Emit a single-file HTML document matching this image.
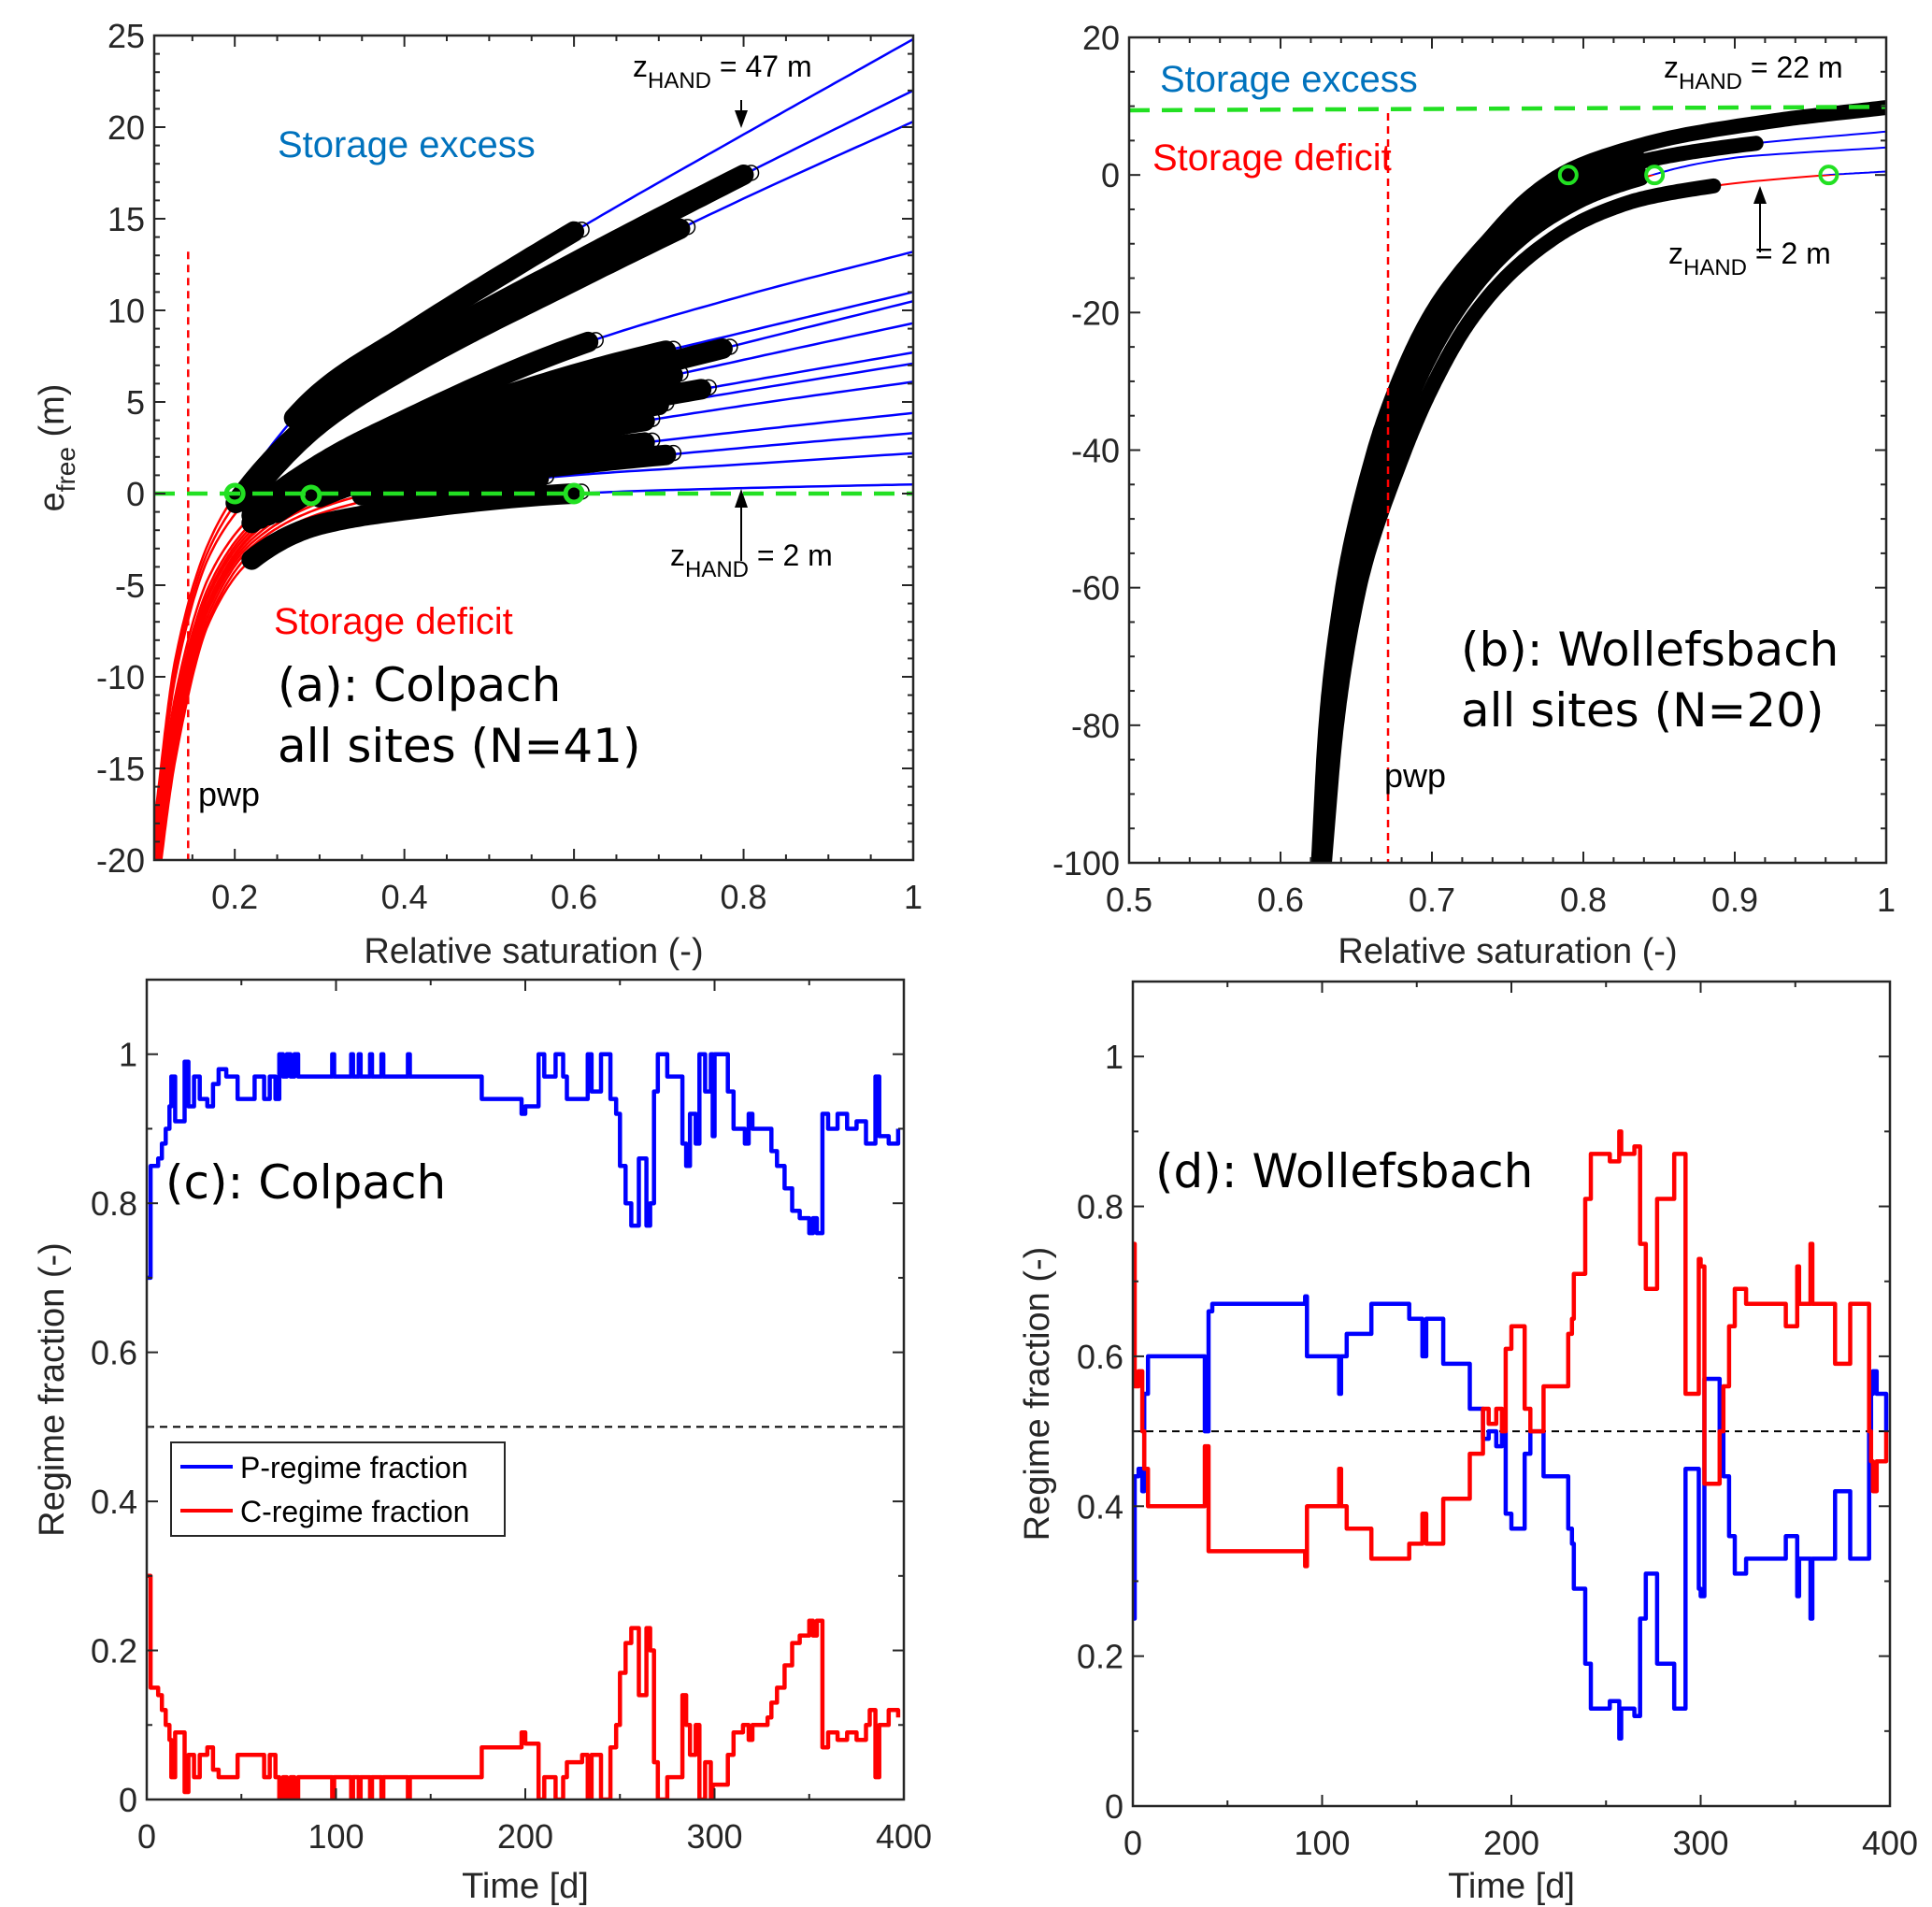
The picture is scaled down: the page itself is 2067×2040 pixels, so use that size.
<!DOCTYPE html>
<html><head><meta charset="utf-8"><title>Regime chart</title>
<style>
html,body{margin:0;padding:0;background:#fff;}
svg{display:block;}
text{font-family:"Liberation Sans",Arial,sans-serif;}
.big{font-family:"DejaVu Sans","Liberation Sans",sans-serif;}
</style></head>
<body>
<svg id="fig" width="2067" height="2040" viewBox="0 0 2067 2040" xmlns="http://www.w3.org/2000/svg" fill="#262626">
<defs>
<clipPath id="clipA"><rect x="165" y="38" width="812" height="882"/></clipPath>
<clipPath id="clipB"><rect x="1208" y="40" width="810" height="883"/></clipPath>
<clipPath id="clipC"><rect x="157" y="1048" width="810" height="877"/></clipPath>
<clipPath id="clipD"><rect x="1212" y="1050" width="810" height="882"/></clipPath>
<clipPath id="aboveA"><rect x="165" y="0" width="812" height="528"/></clipPath>
<clipPath id="belowA"><rect x="165" y="528" width="812" height="500"/></clipPath>
<clipPath id="aboveB"><rect x="1208" y="0" width="810" height="187"/></clipPath>
<clipPath id="belowB"><rect x="1208" y="187" width="810" height="760"/></clipPath>
</defs>
<g id="gA"></g>
<g id="gB"></g>
<g id="gC"></g>
<g id="gD"></g>
</svg>
<script>
// ---------- Panel (a) data ----------
const aSat = [0.105,0.13,0.17,0.22,0.3,0.4,0.6,0.8,1.0];
const aCurves = [
 [-18,-9,-2.6,1.2,5.5,8.6,14.3,19.6,24.8],
 [-18.5,-9.5,-3,0.6,4.3,7.5,12.6,17.4,22],
 [-19,-10,-3.4,0,3.8,6.8,11.6,16.1,20.3],
 [-19,-11,-4.5,-1.2,1.6,4.0,8.0,10.8,13.2],
 [-19.5,-11.5,-5,-1.6,1.0,3.3,6.5,8.8,11],
 [-20,-12,-5.3,-1.8,0.8,2.9,5.8,8.2,10.5],
 [-20,-12,-5.5,-2,0.6,2.6,5.2,7.3,9.3],
 [-21,-12.5,-5.8,-2.2,0.3,2.1,4.4,6.1,7.7],
 [-21,-12.5,-5.8,-2.3,0.1,1.8,4.0,5.6,7.1],
 [-21,-13,-6,-2.5,-0.2,1.3,3.3,4.8,6.1],
 [-22,-13,-6.2,-2.7,-0.5,0.8,2.3,3.4,4.4],
 [-22,-13.5,-6.5,-2.9,-0.8,0.4,1.6,2.5,3.3],
 [-22,-14,-6.8,-3.2,-1.1,0,1.0,1.6,2.2],
 [-23,-14.5,-7,-3.6,-1.7,-0.9,0,0.3,0.5]
];
const aScatterStart = [0.27,0.2,0.21,0.22,0.22,0.23,0.24,0.25,0.3,0.3,0.35,0.35,0.36,0.22];
const aScatterEnd = [0.6,0.8,0.73,0.62,0.71,0.78,0.72,0.75,0.7,0.69,0.69,0.71,0.56,0.6];
const aGreenX = [0.2,0.29,0.6];
const aGreenY = [0,-0.1,0];
const aXTicks = [0.2,0.4,0.6,0.8,1];
const aXTickLabels = ["0.2","0.4","0.6","0.8","1"];
const aYTicks = [-20,-15,-10,-5,0,5,10,15,20,25];
const aYTickLabels = ["-20","-15","-10","-5","0","5","10","15","20","25"];
// ---------- Panel (b) data ----------
const bSat1 = [0.625,0.630,0.641,0.662,0.678,0.700,0.735,0.785,0.85,0.93,1.0];
const bVal1 = [-100,-80,-60,-40,-30,-20,-10,0,5,8,9.8];
const bSat2 = [0.626,0.632,0.644,0.667,0.684,0.707,0.743,0.79,0.85,0.914,1.0];
const bVal2 = [-100,-80,-60,-40,-30,-20,-10,-1,2.5,4.6,6.3];
const bSat3 = [0.627,0.634,0.648,0.673,0.691,0.716,0.755,0.8,0.838,0.9,1.0];
const bVal3 = [-100,-80,-60,-40,-30,-20,-10,-3.5,-0.5,2.5,4];
const bSat4 = [0.629,0.637,0.652,0.682,0.702,0.729,0.775,0.83,0.886,0.962,1.0];
const bVal4 = [-100,-80,-60,-40,-30,-20,-10,-4,-1.6,0,0.5];
const bScatterStart = [0.625,0.626,0.627,0.629];
const bScatterEnd = [1.0,0.914,0.838,0.886];
const bGreenX = [0.79,0.847,0.962];
const bGreenY = [0,0,0];
const bXTicks = [0.5,0.6,0.7,0.8,0.9,1];
const bXTickLabels = ["0.5","0.6","0.7","0.8","0.9","1"];
const bYTicks = [-100,-80,-60,-40,-20,0,20];
const bYTickLabels = ["-100","-80","-60","-40","-20","0","20"];
// ---------- Panel (c) data ----------
const cDays = [0,2,6,8,10,12,13,15,20,22,25,28,32,35,38,42,48,57,62,65,68,70,72,74,76,78,80,85,98,99,108,109,112,113,118,119,124,125,138,139,175,177,197,198,200,205,207,210,216,220,222,230,233,235,240,245,248,250,253,256,260,264,266,268,270,275,280,283,285,287,290,292,295,298,299,300,305,307,310,315,316,318,320,328,330,333,337,341,345,350,352,354,357,360,365,370,375,380,382,385,387,392,395,397];
const cP = [0.70,0.85,0.86,0.88,0.90,0.93,0.97,0.91,0.99,0.93,0.97,0.94,0.93,0.96,0.98,0.97,0.94,0.97,0.94,0.97,0.94,1.0,0.97,1.0,0.97,1.0,0.97,0.97,1.0,0.97,1.0,0.97,1.0,0.97,1.0,0.97,1.0,0.97,1.0,0.97,0.97,0.94,0.94,0.92,0.93,0.93,1.0,0.97,1.0,0.97,0.94,0.94,1.0,0.95,1.0,0.94,0.92,0.85,0.80,0.77,0.86,0.77,0.80,0.95,1.0,0.97,0.97,0.88,0.85,0.92,0.88,1.0,0.95,1.0,0.89,1.0,1.0,0.95,0.90,0.90,0.88,0.92,0.90,0.90,0.87,0.85,0.82,0.79,0.78,0.76,0.78,0.76,0.92,0.90,0.92,0.90,0.91,0.88,0.88,0.97,0.89,0.88,0.88,0.90];
const cC = [0.30,0.15,0.14,0.12,0.10,0.08,0.03,0.09,0.01,0.06,0.03,0.06,0.07,0.04,0.03,0.03,0.06,0.06,0.03,0.06,0.03,0.0,0.03,0.0,0.03,0.0,0.03,0.03,0.0,0.03,0.0,0.03,0.0,0.03,0.0,0.03,0.0,0.03,0.0,0.03,0.03,0.07,0.07,0.09,0.075,0.075,0.0,0.03,0.0,0.03,0.05,0.06,0.0,0.06,0.0,0.07,0.10,0.17,0.21,0.23,0.14,0.23,0.20,0.05,0.0,0.03,0.03,0.14,0.10,0.06,0.10,0.0,0.05,0.0,0.02,0.02,0.02,0.06,0.09,0.10,0.10,0.08,0.10,0.11,0.13,0.15,0.18,0.21,0.22,0.24,0.22,0.24,0.07,0.09,0.08,0.09,0.08,0.10,0.12,0.03,0.10,0.12,0.12,0.11];
// ---------- Panel (d) data ----------
const dDays = [0,1,3,5,6,8,38,40,42,90,91,92,108,109,110,113,125,126,145,146,152,153,155,163,164,177,178,184,185,188,192,195,197,200,205,207,210,215,217,228,230,232,233,238,239,242,250,252,257,258,264,265,268,271,275,277,285,286,290,292,297,299,300,302,308,310,312,315,318,322,324,343,345,350,351,352,358,359,370,371,378,379,387,389,390,391,393,397,398];
const dP = [0.25,0.44,0.45,0.42,0.55,0.60,0.50,0.66,0.67,0.67,0.68,0.60,0.60,0.55,0.60,0.63,0.63,0.67,0.67,0.65,0.65,0.60,0.65,0.65,0.59,0.59,0.53,0.53,0.49,0.50,0.48,0.50,0.39,0.37,0.37,0.47,0.50,0.50,0.44,0.44,0.37,0.35,0.29,0.29,0.19,0.13,0.13,0.14,0.09,0.13,0.13,0.12,0.25,0.31,0.31,0.19,0.19,0.13,0.13,0.45,0.45,0.29,0.28,0.57,0.57,0.50,0.44,0.36,0.31,0.31,0.33,0.33,0.36,0.36,0.28,0.33,0.25,0.33,0.33,0.42,0.42,0.33,0.33,0.50,0.55,0.58,0.55,0.55,0.50];
const dC = [0.75,0.56,0.58,0.50,0.45,0.40,0.48,0.34,0.34,0.34,0.32,0.40,0.40,0.45,0.40,0.37,0.37,0.33,0.33,0.35,0.35,0.39,0.35,0.35,0.41,0.41,0.47,0.47,0.53,0.51,0.53,0.50,0.61,0.64,0.64,0.53,0.50,0.50,0.56,0.56,0.63,0.65,0.71,0.71,0.81,0.87,0.87,0.86,0.90,0.87,0.87,0.88,0.75,0.69,0.69,0.81,0.81,0.87,0.87,0.55,0.55,0.73,0.72,0.43,0.43,0.50,0.56,0.64,0.69,0.69,0.67,0.67,0.64,0.64,0.72,0.67,0.75,0.67,0.67,0.59,0.59,0.67,0.67,0.50,0.46,0.42,0.46,0.46,0.50];
const tXTicks = [0,100,200,300,400];
const tXTickLabels = ["0","100","200","300","400"];
const tYTicks = [0,0.2,0.4,0.6,0.8,1];
const tYTickLabels = ["0","0.2","0.4","0.6","0.8","1"];

const NS = "http://www.w3.org/2000/svg";
function mk(parent, tag, attrs, txt){
  const e = document.createElementNS(NS, tag);
  for (const k in attrs) e.setAttribute(k, attrs[k]);
  if (txt !== undefined) e.textContent = txt;
  parent.appendChild(e);
  return e;
}
function lin(d0,d1,r0,r1){ return v => r0 + (v-d0)/(d1-d0)*(r1-r0); }
function mono(xs, ys){
  const n=xs.length, dk=[], m=new Array(n);
  for (let i=0;i<n-1;i++) dk.push((ys[i+1]-ys[i])/(xs[i+1]-xs[i]));
  m[0]=dk[0]; m[n-1]=dk[n-2];
  for (let i=1;i<n-1;i++){
    if (dk[i-1]*dk[i]<=0) m[i]=0;
    else { const w1=2*(xs[i+1]-xs[i])+(xs[i]-xs[i-1]), w2=(xs[i+1]-xs[i])+2*(xs[i]-xs[i-1]);
      m[i]=(w1+w2)/(w1/dk[i-1]+w2/dk[i]); }
  }
  const out=[];
  for (let i=0;i<n-1;i++){
    const h=xs[i+1]-xs[i];
    for (let k=0;k<24;k++){
      const t=k/24, t2=t*t, t3=t2*t;
      out.push([xs[i]+h*t,(2*t3-3*t2+1)*ys[i]+(t3-2*t2+t)*h*m[i]+(-2*t3+3*t2)*ys[i+1]+(t3-t2)*h*m[i+1]]);
    }
  }
  out.push([xs[n-1],ys[n-1]]);
  return out;
}
function densePts(xs, ys, sx, sy, x0, x1){
  return mono(xs,ys).filter(p=>p[0]>=x0-1e-9&&p[0]<=x1+1e-9).map(p=>[sx(p[0]),sy(p[1])]);
}
function densePtsInv(xs, ys, sx, sy, x0, x1){
  return mono(ys,xs).map(p=>[p[1],p[0]]).filter(p=>p[0]>=x0-1e-9&&p[0]<=x1+1e-9).map(p=>[sx(p[0]),sy(p[1])]);
}
function polyD(pts){ return "M"+pts.map(p=>p[0].toFixed(1)+","+p[1].toFixed(1)).join(" L"); }
function stepD(xs, ys, sx, sy){
  let d="M"+sx(xs[0]).toFixed(1)+","+sy(ys[0]).toFixed(1);
  for (let i=1;i<xs.length;i++){
    d+=" L"+sx(xs[i]).toFixed(1)+","+sy(ys[i-1]).toFixed(1)+" L"+sx(xs[i]).toFixed(1)+","+sy(ys[i]).toFixed(1);
  }
  return d;
}
function axes(g, box, sx, sy, xt, xl, yt, yl, xMinor, yMinor){
  const [L,T,R,B]=box;
  for (let i=0;i<xt.length;i++){
    const x=sx(xt[i]);
    const t1=mk(g,"line",{x1:x,y1:B,x2:x,y2:B-12,stroke:"#262626","stroke-width":2});
    
    
    mk(g,"line",{x1:x,y1:T,x2:x,y2:T+12,stroke:"#262626","stroke-width":2});
    const tl=mk(g,"text",{x:x,y:B+52,"font-size":36,"text-anchor":"middle",fill:"#262626"},xl[i]);
    
    
  }
  for (let i=0;i<yt.length;i++){
    const y=sy(yt[i]);
    const t1=mk(g,"line",{x1:L,y1:y,x2:L+12,y2:y,stroke:"#262626","stroke-width":2});
    
    
    mk(g,"line",{x1:R,y1:y,x2:R-12,y2:y,stroke:"#262626","stroke-width":2});
    const tl=mk(g,"text",{x:L-10,y:y+13,"font-size":36,"text-anchor":"end",fill:"#262626"},yl[i]);
    
    
  }
  (xMinor||[]).forEach(v=>{const x=sx(v);
    mk(g,"line",{x1:x,y1:B,x2:x,y2:B-6,stroke:"#262626","stroke-width":2});
    mk(g,"line",{x1:x,y1:T,x2:x,y2:T+6,stroke:"#262626","stroke-width":2});});
  (yMinor||[]).forEach(v=>{const y=sy(v);
    mk(g,"line",{x1:L,y1:y,x2:L+6,y2:y,stroke:"#262626","stroke-width":2});
    mk(g,"line",{x1:R,y1:y,x2:R-6,y2:y,stroke:"#262626","stroke-width":2});});
  const fr=mk(g,"rect",{x:L,y:T,width:R-L,height:B-T,fill:"none",stroke:"#262626","stroke-width":2.5});
  
  
}
function range(a,b,s){const o=[];for(let v=a;v<=b+1e-9;v+=s)o.push(+v.toFixed(4));return o;}

// ================= Panel A =================
(function(){
  const g=document.getElementById("gA");
  const box=[165,38,977,920];
  const sx=lin(0.105,1,165,977), sy=lin(-20,25,920,38);
  const plot=mk(g,"g",{"clip-path":"url(#clipA)"});
  aCurves.forEach((ys,i)=>{
    const d=polyD(densePts(aSat,ys,sx,sy,0,1));
    const r=mk(plot,"path",{d:d,fill:"none",stroke:"#ff0000","stroke-width":2.5,"clip-path":"url(#belowA)"});
    
    
    const b=mk(plot,"path",{d:d,fill:"none",stroke:"#0000ff","stroke-width":2.5,"clip-path":"url(#aboveA)"});
    
    
  });
  aCurves.forEach((ys,i)=>{
    const pts=densePts(aSat,ys,sx,sy,aScatterStart[i],aScatterEnd[i]);
    const s=mk(plot,"path",{d:polyD(pts),fill:"none",stroke:"#000","stroke-width":22,"stroke-linecap":"round"});
    
    
    const e=pts[pts.length-1];
    mk(plot,"circle",{cx:e[0]+8,cy:e[1]-2,r:8,fill:"none",stroke:"#000","stroke-width":1.5});
  });
  const pwp=mk(plot,"line",{x1:sx(0.145),y1:sy(13.2),x2:sx(0.145),y2:sy(-20),stroke:"#ff0000","stroke-width":2.5,"stroke-dasharray":"8 6"});
  
  
  const gl=mk(plot,"line",{x1:165,y1:sy(0),x2:977,y2:sy(0),stroke:"#22e022","stroke-width":4.5,"stroke-dasharray":"22 13"});
  
  
  aGreenX.forEach((x,i)=>{
    const c=mk(plot,"circle",{cx:sx(x),cy:sy(aGreenY[i]),r:9,fill:"none",stroke:"#22e022","stroke-width":5});
    
    
  });
  axes(g,box,sx,sy,aXTicks,aXTickLabels,aYTicks,aYTickLabels,range(0.15,0.95,0.05).filter(v=>Math.round(v*100)%20!==0),range(-19,24,1).filter(v=>v%5!==0));
  const t=(x,y,s,txt,fill,name,cls)=>{const e=mk(g,"text",{x:x,y:y,"font-size":s,fill:fill||"#000"},txt); if(cls)e.setAttribute("class",cls);   return e;};
  t(297,168,40,"Storage excess","#0072bd","storage-excess-label");
  t(293,678,40,"Storage deficit","#ff0000","storage-deficit-label");
  t(297,750,50,"(a): Colpach","#000","panel-a-title","big");
  t(297,815,50,"all sites (N=41)","#000","panel-a-subtitle","big");
  t(212,862,36,"pwp","#000","pwp-label");
  const z1=mk(g,"text",{x:677,y:82,"font-size":32,fill:"#000"});
   
  z1.innerHTML='z<tspan font-size="24" dy="12">HAND</tspan><tspan dy="-12"> = 47 m</tspan>';
  mk(g,"line",{x1:793,y1:107,x2:793,y2:125,stroke:"#000","stroke-width":2});
  mk(g,"path",{d:"M786,118 L800,118 L793,137 Z",fill:"#000"});
  const z2=mk(g,"text",{x:717,y:605,"font-size":32,fill:"#000"});
   
  z2.innerHTML='z<tspan font-size="24" dy="12">HAND</tspan><tspan dy="-12"> = 2 m</tspan>';
  mk(g,"line",{x1:793,y1:600,x2:793,y2:535,stroke:"#000","stroke-width":2});
  mk(g,"path",{d:"M786,543 L800,543 L793,523 Z",fill:"#000"});
  const xl=mk(g,"text",{x:571,y:1030,"font-size":38,"text-anchor":"middle",fill:"#262626"},"Relative saturation (-)");
   
  const yl=mk(g,"text",{transform:"translate(68,479) rotate(-90)","font-size":38,"text-anchor":"middle",fill:"#262626"});
   
  yl.innerHTML='e<tspan font-size="28" dy="12">free</tspan><tspan dy="-12"> (m)</tspan>';
})();

// ================= Panel B =================
(function(){
  const g=document.getElementById("gB");
  const box=[1208,40,2018,923];
  const sx=lin(0.5,1,1208,2018), sy=lin(-100,20,923,40);
  const plot=mk(g,"g",{"clip-path":"url(#clipB)"});
  const S=[bSat1,bSat2,bSat3,bSat4], V=[bVal1,bVal2,bVal3,bVal4];
  S.forEach((xs,i)=>{
    const d=polyD(densePtsInv(xs,V[i],sx,sy,0,1));
    const r=mk(plot,"path",{d:d,fill:"none",stroke:"#ff0000","stroke-width":2,"clip-path":"url(#belowB)"});
     
    const b=mk(plot,"path",{d:d,fill:"none",stroke:"#0000ff","stroke-width":2,"clip-path":"url(#aboveB)"});
     
  });
  const up=densePtsInv(bSat1,bVal1,sx,sy,bScatterStart[0],bScatterEnd[2]);
  const lo=densePtsInv(bSat3,bVal3,sx,sy,bScatterStart[2],bScatterEnd[2]).reverse();
  const band=mk(plot,"path",{d:polyD(up.concat(lo))+" Z",fill:"#000",stroke:"#000","stroke-width":12,"stroke-linejoin":"round"});
   
  S.forEach((xs,i)=>{
    const pts=densePtsInv(xs,V[i],sx,sy,bScatterStart[i],bScatterEnd[i]);
    const s=mk(plot,"path",{d:polyD(pts),fill:"none",stroke:"#000","stroke-width":16,"stroke-linecap":"round"});
     
  });
  const pwp=mk(plot,"line",{x1:sx(0.671),y1:sy(9),x2:sx(0.671),y2:sy(-100),stroke:"#ff0000","stroke-width":2.5,"stroke-dasharray":"8 6"});
   
  const gl=mk(plot,"line",{x1:1208,y1:sy(9.4),x2:2018,y2:sy(9.9),stroke:"#22e022","stroke-width":4.5,"stroke-dasharray":"22 13"});
   
  bGreenX.forEach((x,i)=>{
    const c=mk(plot,"circle",{cx:sx(x),cy:sy(bGreenY[i]),r:9,fill:"none",stroke:"#22e022","stroke-width":4});
     
  });
  axes(g,box,sx,sy,bXTicks,bXTickLabels,bYTicks,bYTickLabels,range(0.52,0.98,0.02).filter(v=>Math.round(v*100)%10!==0),range(-95,15,5).filter(v=>v%20!==0));
  const t=(x,y,s,txt,fill,name,cls)=>{const e=mk(g,"text",{x:x,y:y,"font-size":s,fill:fill||"#000"},txt); if(cls)e.setAttribute("class",cls);   return e;};
  t(1241,98,40,"Storage excess","#0072bd","storage-excess-label");
  t(1233,182,40,"Storage deficit","#ff0000","storage-deficit-label");
  t(1563,712,50,"(b): Wollefsbach","#000","panel-b-title","big");
  t(1563,777,50,"all sites (N=20)","#000","panel-b-subtitle","big");
  t(1481,842,36,"pwp","#000","pwp-label");
  const z1=mk(g,"text",{x:1780,y:83,"font-size":32,fill:"#000"});
   
  z1.innerHTML='z<tspan font-size="24" dy="12">HAND</tspan><tspan dy="-12"> = 22 m</tspan>';
  const z2=mk(g,"text",{x:1785,y:282,"font-size":32,fill:"#000"});
   
  z2.innerHTML='z<tspan font-size="24" dy="12">HAND</tspan><tspan dy="-12"> = 2 m</tspan>';
  mk(g,"line",{x1:1883,y1:270,x2:1883,y2:210,stroke:"#000","stroke-width":2});
  mk(g,"path",{d:"M1876,218 L1890,218 L1883,199 Z",fill:"#000"});
  const xl=mk(g,"text",{x:1613,y:1030,"font-size":38,"text-anchor":"middle",fill:"#262626"},"Relative saturation (-)");
   
})();

// ================= Panels C & D =================
function timePanel(id, box, days, P, C, title, titleX, titleY, ylX, clip, legend){
  const g=document.getElementById(id);
  const [L,T,R,B]=box;
  const sx=lin(0,400,L,R), sy=lin(0,1.1,B,T);
  const plot=mk(g,"g",{"clip-path":"url("+clip+")"});
  const hl=mk(plot,"line",{x1:L,y1:sy(0.5),x2:R,y2:sy(0.5),stroke:"#000","stroke-width":2,"stroke-dasharray":"8 6"});
   
  const pl=mk(plot,"path",{d:stepD(days,P,sx,sy),fill:"none",stroke:"#0000ff","stroke-width":4.5,"stroke-linejoin":"round"});
   
  const cl=mk(plot,"path",{d:stepD(days,C,sx,sy),fill:"none",stroke:"#ff0000","stroke-width":4.5,"stroke-linejoin":"round"});
   
  axes(g,box,sx,sy,tXTicks,tXTickLabels,tYTicks,tYTickLabels,[50,150,250,350],[0.1,0.3,0.5,0.7,0.9,1.1]);
  const tt=mk(g,"text",{x:titleX,y:titleY,"font-size":50,"class":"big",fill:"#000"},title);
   
  const xl=mk(g,"text",{x:(L+R)/2,y:2030,"font-size":38,"text-anchor":"middle",fill:"#262626"},"Time [d]");
   
  const yl=mk(g,"text",{transform:"translate("+ylX+","+((T+B)/2)+") rotate(-90)","font-size":38,"text-anchor":"middle",fill:"#262626"},"Regime fraction (-)");
   
  if (legend){
    const lg=mk(g,"g",{});
     
    mk(lg,"rect",{x:183,y:1543,width:357,height:100,fill:"#fff",stroke:"#262626","stroke-width":2});
    const e1=mk(lg,"g",{});  
    mk(e1,"line",{x1:193,y1:1569,x2:249,y2:1569,stroke:"#0000ff","stroke-width":4});
    mk(e1,"text",{x:257,y:1581,"font-size":32,fill:"#000"},"P-regime fraction");
    const e2=mk(lg,"g",{});  
    mk(e2,"line",{x1:193,y1:1616,x2:249,y2:1616,stroke:"#ff0000","stroke-width":4});
    mk(e2,"text",{x:257,y:1628,"font-size":32,fill:"#000"},"C-regime fraction");
  }
}
timePanel("gC",[157,1048,967,1925],cDays,cP,cC,"(c): Colpach",177,1282,68,"#clipC",true);
timePanel("gD",[1212,1050,2022,1932],dDays,dP,dC,"(d): Wollefsbach",1236,1270,1122,"#clipD",false);
</script>
</body></html>
